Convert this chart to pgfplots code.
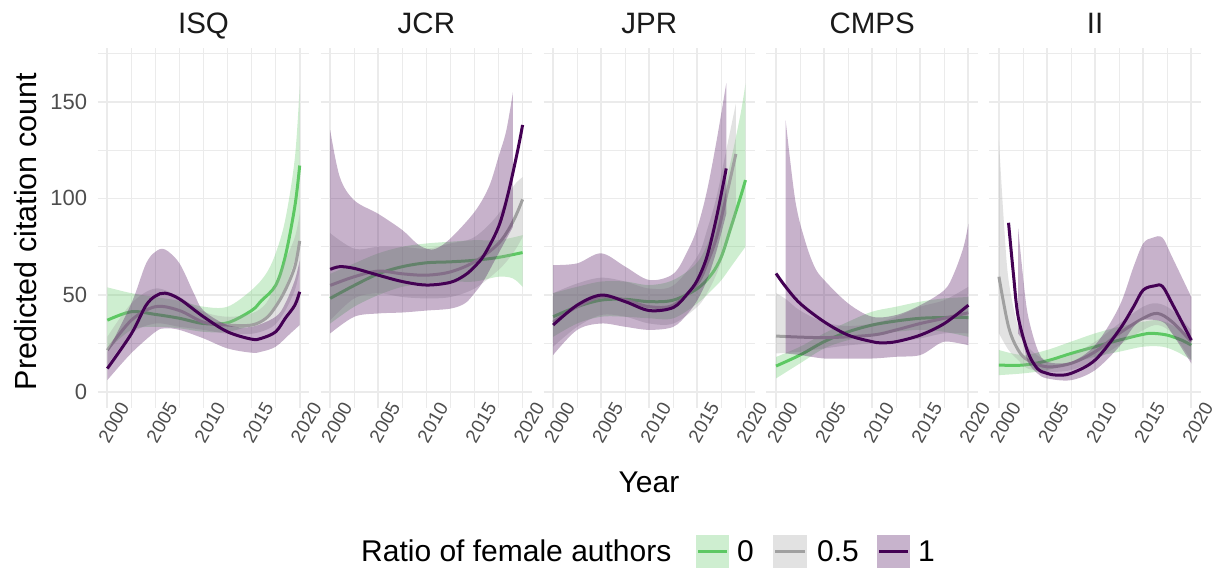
\documentclass[border=0pt]{standalone}
\usepackage{fontspec}
\setmainfont{Liberation Sans}
\usepackage{pgfplots}
\pgfplotsset{compat=1.18}
\usepgfplotslibrary{fillbetween}
\definecolor{cgreen}{HTML}{5DC863}
\definecolor{cgrey}{HTML}{A0A0A0}
\definecolor{cpurple}{HTML}{440154}
\definecolor{gridc}{HTML}{EBEBEB}
\definecolor{tickc}{HTML}{4D4D4D}
\definecolor{titc}{HTML}{1A1A1A}
\pgfplotsset{
 panel/.style={
  at={(#1bp,160bp)}, anchor=south west, scale only axis, width=211.6bp, height=360bp,
  xmin=1999, xmax=2021, ymin=-8.4, ymax=177.8,
  axis line style={draw=none}, tick style={draw=none},
  xtick={2000,2005,2010,2015,2020}, xticklabels={2000,2005,2010,2015,2020},
  minor xtick={2002.5,2007.5,2012.5,2017.5},
  ytick={0,50,100,150}, yticklabels={0,50,100,150}, minor ytick={25,75,125,175},
  grid=both, major grid style={draw=gridc, line width=1.8bp}, minor grid style={draw=gridc, line width=0.9bp},
  xticklabel style={font=\fontsize{19bp}{19bp}\selectfont, text=tickc, inner sep=0pt, xshift=6.4bp, yshift=-14.5bp, rotate=60, anchor=center},
  yticklabel style={font=\fontsize{22bp}{22bp}\selectfont, text=tickc, inner sep=0pt, anchor=east, xshift=-10.5bp},
  /pgf/number format/assume math mode=true,
  fill between/on layer=main,
 },
 band/.style={draw=none, fill=#1, fill opacity=0.3},
 edge/.style={draw=none, smooth, tension=0.55},
 curve/.style={draw=#1, line width=3bp, smooth, tension=0.55, line join=round},
}
\begin{document}
\begin{tikzpicture}

% ---------------- ISQ
\begin{axis}[panel=97.7]
\addplot[edge, name path=au] coordinates {(2000,54)(2002.5,51)(2005,49)(2007.5,47)(2010,44)(2012.5,44)(2015,52.6)(2016.5,61)(2017.5,71.6)(2018.5,89)(2019.5,121)(2020,158)};
\addplot[edge, name path=al] coordinates {(2000,21.5)(2002.5,32)(2005,33.6)(2007.5,32.8)(2010,31)(2012.5,31)(2015,34.5)(2016.5,38.8)(2017.5,44)(2018.5,54)(2019.5,68)(2020,78)};
\addplot[band=cgreen] fill between[of=au and al];
\addplot[curve=cgreen] coordinates {(2000,37)(2002.5,41.4)(2005,40)(2007.5,38)(2010,35.3)(2012.5,35.7)(2015,42)(2016,47)(2017.5,55)(2018.5,70)(2019.5,96)(2020,117)};
\addplot[edge, name path=bu] coordinates {(2000,28.4)(2002.5,45.7)(2005,53.4)(2007.5,49)(2010,41.4)(2012.5,38.8)(2015,40.5)(2016.5,45.7)(2017.5,56)(2018.5,68)(2019.5,80)(2020,92)};
\addplot[edge, name path=bl] coordinates {(2000,13.8)(2002.5,30)(2005,35.3)(2007.5,33.6)(2010,32)(2012.5,30)(2015,30)(2016.5,32)(2017.5,35)(2018.5,42)(2019.5,52.6)(2020,63)};
\addplot[band=cgrey] fill between[of=bu and bl];
\addplot[curve=cgrey] coordinates {(2000,21.5)(2002.5,37)(2005,44)(2007.5,42)(2010,36)(2012.5,34.5)(2015,34.5)(2016.5,38)(2017.5,44)(2018.5,52.6)(2019.5,64.7)(2020,78)};
\addplot[edge, name path=cu] coordinates {(2000,20.7)(2002.5,45.7)(2004,66)(2005,72.4)(2006,73.6)(2007.5,66.4)(2009,50.9)(2010,42)(2012.5,34.5)(2015,33.6)(2017.5,38.8)(2018.5,45.7)(2019.5,57.8)(2020,68)};
\addplot[edge, name path=cl] coordinates {(2000,6)(2002.5,20)(2005,31)(2006,32.8)(2007.5,32)(2010,27.6)(2012.5,22.4)(2015,20.2)(2016,20.7)(2017.5,23.3)(2019,30)(2020,34.5)};
\addplot[band=cpurple] fill between[of=cu and cl];
\addplot[curve=cpurple] coordinates {(2000,12)(2002.5,30)(2004,44.5)(2005,49.5)(2006,51)(2007.5,48)(2010,38.8)(2012.5,31)(2015,27.2)(2016,27.6)(2017.5,31)(2018.5,38)(2019.5,44.8)(2020,51.7)};
\end{axis}

% ---------------- JCR
\begin{axis}[panel=320.6, yticklabels={}]
\addplot[edge, name path=du] coordinates {(2000,61)(2002.5,66.4)(2005,71.6)(2007.5,75)(2010,76.7)(2012.5,77.6)(2015,78.4)(2017.5,78.4)(2020,81)};
\addplot[edge, name path=dl] coordinates {(2000,35.3)(2002.5,44)(2005,50)(2007.5,54.3)(2010,56)(2012.5,57)(2015,57)(2017.5,59.5)(2019,58.6)(2020,54.3)};
\addplot[band=cgreen] fill between[of=du and dl];
\addplot[curve=cgreen] coordinates {(2000,48.3)(2002.5,55)(2005,61)(2007.5,64.7)(2010,66.7)(2012.5,67.2)(2015,68)(2017.5,69.5)(2020,72)};
\addplot[edge, name path=eu] coordinates {(2000,82)(2002.5,74)(2005,75)(2007.5,75)(2010,74)(2012.5,76.7)(2015,80)(2017.5,92)(2019,106)(2020,111)};
\addplot[edge, name path=el] coordinates {(2000,37)(2002.5,48.3)(2005,50.9)(2007.5,49)(2010,48.3)(2012.5,49)(2015,53.4)(2017.5,63)(2019,71.6)(2020,80)};
\addplot[band=cgrey] fill between[of=eu and el];
\addplot[curve=cgrey] coordinates {(2000,55)(2002.5,59.5)(2005,62.4)(2007.5,61)(2010,60.3)(2012.5,62)(2015,67.2)(2017.5,76.7)(2019,88)(2020,99.5)};
\addplot[edge, name path=fu] coordinates {(2000,135.3)(2001,111)(2002.5,99)(2005,92)(2007.5,83.6)(2009,76.7)(2010,74)(2011,74)(2012.5,79.3)(2015,93)(2016.5,106)(2017.5,121.6)(2018.3,135)(2019,155)};
\addplot[edge, name path=fl] coordinates {(2000,30.2)(2002.5,38.8)(2005,40.5)(2007.5,41)(2010,42)(2012.5,43)(2014,45.7)(2015,51)(2016,57.8)(2017.5,71.6)(2019,85.3)};
\addplot[band=cpurple] fill between[of=fu and fl];
\addplot[curve=cpurple] coordinates {(2000,63.3)(2001,64.7)(2002.5,63.8)(2005,60.3)(2007.5,57)(2010,55.2)(2012.5,56.6)(2014,60.3)(2015,64.7)(2016,70.7)(2017.5,85.3)(2018.5,102.6)(2019.5,125)(2020,138)};
\end{axis}

% ---------------- JPR
\begin{axis}[panel=543.5, yticklabels={}]
\addplot[edge, name path=gu] coordinates {(2000,51)(2002.5,54.3)(2005,57)(2007.5,57)(2010,55.2)(2012.5,57.8)(2015,67)(2016.5,82)(2017.5,99)(2018.5,120)(2019.5,144)(2020,159.5)};
\addplot[edge, name path=gl] coordinates {(2000,28.4)(2002.5,35.3)(2005,38.8)(2007.5,38.8)(2010,38)(2012.5,38)(2015,45.7)(2016.5,52.6)(2017.5,57.8)(2018.5,64.7)(2019.5,71.6)(2020,75)};
\addplot[band=cgreen] fill between[of=gu and gl];
\addplot[curve=cgreen] coordinates {(2000,38.8)(2002.5,44)(2005,47.4)(2007.5,47.8)(2010,46.6)(2012.5,47.4)(2015,53.4)(2016.5,61)(2017.5,70)(2018.5,85.3)(2019.5,101)(2020,109.5)};
\addplot[edge, name path=hu] coordinates {(2000,51)(2002.5,56)(2005,59)(2007.5,57)(2010,53.4)(2012.5,55)(2015,70)(2016,83.6)(2017,101)(2018,125)(2019,149)};
\addplot[edge, name path=hl] coordinates {(2000,23.3)(2002.5,33.6)(2005,39.7)(2007.5,38.8)(2010,35.3)(2012.5,35.3)(2015,44)(2016,51)(2017,61)(2018,75)(2019,90.5)};
\addplot[band=cgrey] fill between[of=hu and hl];
\addplot[curve=cgrey] coordinates {(2000,36)(2002.5,44)(2005,49)(2007.5,47.4)(2010,44)(2012.5,44.8)(2015,56)(2016,66.4)(2017,80)(2018,101)(2019,123)};
\addplot[edge, name path=iu] coordinates {(2000,65.5)(2002.5,66.4)(2005,71.6)(2007.5,64.7)(2010,57.8)(2012.5,61)(2014,73)(2015,85)(2016,104)(2017,130)(2018,159.5)};
\addplot[edge, name path=il] coordinates {(2000,19)(2002.5,32)(2005,35.3)(2007.5,33.6)(2010,32)(2012.5,33.6)(2014,40.5)(2015,47.4)(2016,57.8)(2017,73)(2018,92)};
\addplot[band=cpurple] fill between[of=iu and il];
\addplot[curve=cpurple] coordinates {(2000,34.5)(2002.5,44.8)(2005,50)(2007.5,46.6)(2010,42)(2012.5,43.6)(2014,50.9)(2015,57.8)(2016,70)(2017,90.5)(2018,115.5)};
\end{axis}

% ---------------- CMPS
\begin{axis}[panel=766.4, yticklabels={}]
\addplot[edge, name path=ju] coordinates {(2000,18)(2002.5,23.3)(2005,30.2)(2007.5,36.2)(2010,41.4)(2012.5,44)(2015,46.6)(2017.5,48.3)(2020,49)};
\addplot[edge, name path=jl] coordinates {(2000,6.9)(2002.5,14.7)(2005,22.4)(2007.5,26.7)(2010,29.3)(2012.5,31)(2015,32)(2017.5,31)(2020,28.4)};
\addplot[band=cgreen] fill between[of=ju and jl];
\addplot[curve=cgreen] coordinates {(2000,13.3)(2002.5,19)(2005,25.9)(2007.5,31)(2010,34.5)(2012.5,36.6)(2015,38)(2017.5,38.4)(2020,38.4)};
\addplot[edge, name path=ku] coordinates {(2000,51)(2001,48)(2002.5,42)(2005,36)(2007.5,34)(2010,35.3)(2012.5,38.8)(2015,44)(2017.5,47.4)(2020,54.3)};
\addplot[edge, name path=kl] coordinates {(2000,19.8)(2002.5,20.7)(2005,22.4)(2007.5,24)(2010,25)(2012.5,25.9)(2015,27.6)(2017.5,30.2)(2020,30.2)};
\addplot[band=cgrey] fill between[of=ku and kl];
\addplot[curve=cgrey] coordinates {(2000,28.8)(2005,28)(2010,29.3)(2012.5,32)(2015,35.3)(2017.5,38)(2020,40.9)};
\addplot[edge, name path=lu] coordinates {(2001,140.5)(2002,99)(2003,78.4)(2004,64.7)(2005,57.8)(2007.5,45.7)(2010,38.8)(2012.5,39.7)(2015,44.8)(2017.5,52.6)(2018.5,61.2)(2019.5,75)(2020,87)};
\addplot[edge, name path=ll] coordinates {(2001,19.8)(2002.5,19)(2005,17.2)(2007.5,17.2)(2010,17.2)(2012.5,18.1)(2015,19)(2017,25)(2018,25.9)(2020,24.1)};
\addplot[band=cpurple] fill between[of=lu and ll];
\addplot[curve=cpurple] coordinates {(2000,61.2)(2001,54.3)(2002.5,45.7)(2005,36.2)(2007.5,29.3)(2010,25.9)(2011,25.3)(2012.5,25.9)(2015,29.3)(2017.5,35.3)(2020,44.8)};
\end{axis}

% ---------------- II
\begin{axis}[panel=989.3, yticklabels={}]
\addplot[edge, name path=mu] coordinates {(2000,21.6)(2002.5,19)(2005,21.6)(2007.5,25.9)(2010,30.2)(2012.5,33.6)(2015,36.2)(2016.5,37)(2018,34.5)(2020,27.6)};
\addplot[edge, name path=ml] coordinates {(2000,8.6)(2002.5,9.5)(2005,11.2)(2007.5,14.7)(2010,18.1)(2012.5,20.7)(2015,23.3)(2017,23.3)(2018.5,20.7)(2020,16.4)};
\addplot[band=cgreen] fill between[of=mu and ml];
\addplot[curve=cgreen] coordinates {(2000,13.8)(2002.5,13.8)(2005,16)(2007.5,19.8)(2010,23.3)(2012.5,26.7)(2015,29.7)(2016,30.2)(2017.5,29.3)(2019,26.7)(2020,24.1)};
\addplot[edge, name path=nu] coordinates {(2000,130)(2000.5,88.8)(2001,57.8)(2002,33.6)(2003,23.3)(2005,16.4)(2007.5,19)(2010,25.9)(2012.5,35.3)(2015,44)(2016.5,45.7)(2018,42.2)(2020,31.9)};
\addplot[edge, name path=nl] coordinates {(2000,30.2)(2001,21.6)(2002,16.4)(2003,12)(2005,10.3)(2007.5,11.2)(2010,16.4)(2012.5,24.1)(2015,31.9)(2016.5,34.5)(2018,30.2)(2020,16.4)};
\addplot[band=cgrey] fill between[of=nu and nl];
\addplot[curve=cgrey] coordinates {(2000,59.5)(2001,33.6)(2002,21.6)(2003,16.4)(2005,12.9)(2007.5,14.7)(2010,20.7)(2012.5,30.2)(2015,38)(2016.5,40.5)(2018,36.2)(2020,25.9)};
\addplot[edge, name path=ou] coordinates {(2002,84.5)(2002.5,60)(2003,40)(2004,22)(2005,15.5)(2007.5,15.5)(2010,24.1)(2012.5,44)(2014,64.7)(2015,76.7)(2016,79.7)(2017,79.7)(2018,69.8)(2020,49)};
\addplot[edge, name path=ol] coordinates {(2002,30)(2002.5,25.9)(2003,15.5)(2004,9.5)(2005,6.9)(2007.5,6)(2010,11.2)(2012.5,23.3)(2014,33.6)(2015,37.2)(2017,36.2)(2018,30.2)(2020,14.7)};
\addplot[band=cpurple] fill between[of=ou and ol];
\addplot[curve=cpurple] coordinates {(2001,87.4)(2001.5,61.2)(2002,38.8)(2003,20.7)(2004,12)(2005,9.5)(2006,8.6)(2007.5,9.5)(2010,16.4)(2012.5,31.9)(2014,44)(2015,52.6)(2016.2,54.8)(2017,54.5)(2018,45.7)(2020,26.7)};
\end{axis}

% ---------------- titles
\begin{scope}[every node/.style={inner sep=0pt, text=titc, font=\fontsize{29.5bp}{30bp}\selectfont, anchor=base}]
\node at (203.5bp,534bp) {ISQ};
\node at (426.4bp,534bp) {JCR};
\node at (649.3bp,534bp) {JPR};
\node at (872.2bp,534bp) {CMPS};
\node at (1095.1bp,534bp) {II};
\end{scope}
\node[inner sep=0pt, anchor=base, font=\fontsize{30bp}{30bp}\selectfont] at (649bp,75.7bp) {Year};
\node[inner sep=0pt, anchor=base, rotate=90, font=\fontsize{30.5bp}{30bp}\selectfont] at (36.7bp,336.5bp) {Predicted citation count};

% ---------------- legend
\node[inner sep=0pt, anchor=base west, font=\fontsize{30bp}{30bp}\selectfont] at (361bp,6.7bp) {Ratio of female authors};
\fill[cgreen!30] (696bp,0bp) rectangle (729bp,33bp);
\draw[cgreen, line width=3bp] (698bp,16.5bp) -- (727bp,16.5bp);
\node[inner sep=0pt, anchor=base west, font=\fontsize{30bp}{30bp}\selectfont] at (737bp,6.7bp) {0};
\fill[cgrey!30] (773bp,0bp) rectangle (807bp,33bp);
\draw[cgrey, line width=3bp] (775bp,16.5bp) -- (805bp,16.5bp);
\node[inner sep=0pt, anchor=base west, font=\fontsize{30bp}{30bp}\selectfont] at (817bp,6.7bp) {0.5};
\fill[cpurple!30] (877bp,0bp) rectangle (910bp,33bp);
\draw[cpurple, line width=3bp] (879bp,16.5bp) -- (908bp,16.5bp);
\node[inner sep=0pt, anchor=base west, font=\fontsize{30bp}{30bp}\selectfont] at (918bp,6.7bp) {1};

\pgfresetboundingbox
\useasboundingbox (0,0) rectangle (1212bp,568bp);
\end{tikzpicture}
\end{document}
